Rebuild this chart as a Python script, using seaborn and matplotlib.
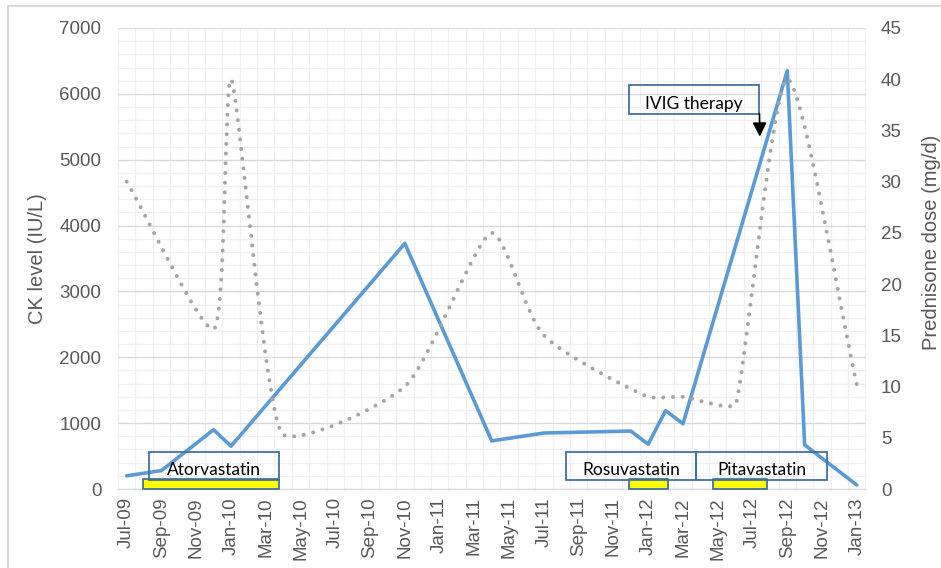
import numpy as np
import pandas as pd
import matplotlib
matplotlib.use("Agg")
import matplotlib.pyplot as plt
from matplotlib.path import Path
from matplotlib.patches import PathPatch, Rectangle
from matplotlib.ticker import MultipleLocator
from matplotlib.lines import Line2D
import seaborn as sns

# ---------------- data ----------------
ck_dates = ["2009-07-01", "2009-09-01", "2009-12-01", "2010-01-01", "2010-11-01",
            "2011-04-01", "2011-07-01", "2011-12-01", "2012-01-01", "2012-02-01",
            "2012-03-01", "2012-09-01", "2012-10-01", "2013-01-01"]
ck_values = [200, 280, 900, 650, 3730, 730, 850, 880, 680, 1190, 990, 6350, 670, 60]

pred_dates = ["2009-07-01", "2009-12-01", "2010-01-01", "2010-04-01", "2010-11-01",
              "2011-04-01", "2011-07-01", "2012-01-01", "2012-03-01", "2012-06-01",
              "2012-09-01", "2013-01-01"]
pred_values = [30, 15.6, 40, 5.3, 10, 25, 15, 9, 9, 8.2, 40, 10.2]

tick_labels = ["Jul-09", "Sep-09", "Nov-09", "Jan-10", "Mar-10", "May-10", "Jul-10",
               "Sep-10", "Nov-10", "Jan-11", "Mar-11", "May-11", "Jul-11", "Sep-11",
               "Nov-11", "Jan-12", "Mar-12", "May-12", "Jul-12", "Sep-12", "Nov-12",
               "Jan-13"]

drugs = ["Atorvastatin", "Rosuvastatin", "Pitavastatin"]
drug_start = ["2009-07-30", "2011-11-28", "2012-04-23"]
drug_end = ["2010-03-25", "2012-02-05", "2012-07-27"]

ivig_label = "IVIG therapy"

# ---------------- helpers ----------------
def month_index(s):
    d = pd.Timestamp(s)
    return (d.year - 2009) * 12 + d.month - 7 + (d.day - 1) / d.days_in_month

ck_x = [month_index(s) for s in ck_dates]
pred_x = [month_index(s) for s in pred_dates]

# ---------------- style ----------------
sns.set_style("white")
plt.rcParams["font.family"] = ["Liberation Sans Narrow", "Liberation Sans", "DejaVu Sans"]
TICK_COLOR = "#595959"
BOX_EDGE = "#41719C"

fig = plt.figure(figsize=(9.41, 5.68), dpi=100)
W, H = 941, 568
left, right, top, bottom = 118, 865.5, 28, 489
ax = fig.add_axes([left / W, 1 - bottom / H, (right - left) / W, (bottom - top) / H])
ax2 = ax.twinx()

XMIN, XMAX = -0.5, 42.5
Y2MAX = 45

# blue CK line
sns.lineplot(x=ck_x, y=ck_values, ax=ax, color="#5B9BD5", linewidth=2.6,
             sort=False, legend=False, zorder=3)

# gray smoothed dotted prednisone line (Excel-like corner smoothing, computed in pixel space)
sx = (right - left) / (XMAX - XMIN)
sy = (bottom - top) / Y2MAX
P = np.column_stack([np.array(pred_x) * sx, np.array(pred_values) * sy]).astype(float)
n = len(P)
dirs, hs = [], []
for i in range(n):
    if i == 0:
        v = P[1] - P[0]; L = np.linalg.norm(v); u = v / L; f = 1.0
    elif i == n - 1:
        v = P[i] - P[i - 1]; L = np.linalg.norm(v); u = v / L; f = 1.0
    else:
        a = P[i] - P[i - 1]; b = P[i + 1] - P[i]
        la, lb = np.linalg.norm(a), np.linalg.norm(b)
        ssum = a / la + b / lb
        m = np.linalg.norm(ssum)
        u = ssum / m if m > 1e-9 else a / la
        f = m / 2.0
        L = min(la, lb)
    dirs.append(u)
    hs.append(0.25 * L * f)
verts = [tuple(P[0])]
codes = [Path.MOVETO]
for i in range(n - 1):
    c1 = P[i] + dirs[i] * hs[i]
    c2 = P[i + 1] - dirs[i + 1] * hs[i + 1]
    verts += [tuple(c1), tuple(c2), tuple(P[i + 1])]
    codes += [Path.CURVE4] * 3
verts = np.array(verts)
verts[:, 0] = verts[:, 0] / sx
verts[:, 1] = verts[:, 1] / sy
patch = PathPatch(Path(verts, codes), facecolor="none", edgecolor="#A5A5A5",
                  linewidth=2.9, linestyle=(0, (0.01, 2.4)), capstyle="round",
                  transform=ax2.transData, zorder=4)
ax2.add_patch(patch)

# axes limits / ticks
ax.set_xlim(XMIN, XMAX)
ax.set_ylim(0, 7000)
ax2.set_ylim(0, Y2MAX)
ax.set_xticks(np.arange(0, 43, 2))
ax.set_xticklabels(tick_labels, rotation=90)
ax.set_xticks(np.arange(-0.5, 43, 1), minor=True)
ax.set_yticks(np.arange(0, 7001, 1000))
ax.yaxis.set_minor_locator(MultipleLocator(200))
ax2.set_yticks(np.arange(0, 46, 5))

ax.grid(False)
ax.yaxis.grid(True, which="major", color="#D9D9D9", linewidth=1.0)
ax.yaxis.grid(True, which="minor", color="#F0F0F0", linewidth=1.0)
ax.xaxis.grid(True, which="minor", color="#F0F0F0", linewidth=1.0)
ax.set_axisbelow(True)

ax.tick_params(axis="both", which="both", length=0)
ax.tick_params(axis="y", labelsize=13.5, labelcolor=TICK_COLOR, pad=12)
ax.tick_params(axis="x", labelsize=13.5, labelcolor=TICK_COLOR, pad=6)
ax2.tick_params(axis="y", which="both", length=0, labelsize=13.5, labelcolor=TICK_COLOR, pad=11)

for s in ["top", "left", "right"]:
    ax.spines[s].set_visible(False)
    ax2.spines[s].set_visible(False)
ax.spines["bottom"].set_color("#D9D9D9")
ax2.spines["bottom"].set_visible(False)

ax.set_ylabel("CK level (IU/L)", fontsize=14.5, color=TICK_COLOR)
ax.yaxis.set_label_coords(-0.095, 0.5)
ax2.set_ylabel("Prednisone dose (mg/d)", fontsize=14.5, color=TICK_COLOR, rotation=90)
ax2.yaxis.set_label_coords(1.0756, 0.535)

# drug periods: yellow bars
for st, en in zip(drug_start, drug_end):
    x0, x1 = month_index(st), month_index(en)
    ax.broken_barh([(x0, x1 - x0)], (0, 150), facecolors="#FFFF00",
                   edgecolors=BOX_EDGE, linewidth=1.3, zorder=5, clip_on=False)

# label boxes
box_x = [(1.28, 8.77), (25.28, 32.76), (32.76, 40.28)]
box_y = (140, 566)
text_x = [5.0, 29.02, 36.52]
ANN_FONT = ["Lato", "DejaVu Sans"]
for name, (bx0, bx1), tx in zip(drugs, box_x, text_x):
    ax.add_patch(Rectangle((bx0, box_y[0]), bx1 - bx0, box_y[1] - box_y[0],
                           facecolor="none", edgecolor=BOX_EDGE, linewidth=1.3, zorder=6))
    ax.text(tx, 285, name, ha="center", va="center", fontsize=12.5,
            color="black", family=ANN_FONT, zorder=7)

# IVIG box + arrow
ax.add_patch(Rectangle((28.9, 5700), 36.4 - 28.9, 6140 - 5700,
                       facecolor="none", edgecolor=BOX_EDGE, linewidth=1.3, zorder=6))
ax.text(32.65, 5850, ivig_label, ha="center", va="center", fontsize=12.5,
        color="black", family=ANN_FONT, zorder=7)
ax.annotate("", xy=(36.42, 5350), xytext=(36.4, 5700),
            arrowprops=dict(arrowstyle="-|>", color="black", lw=1.2,
                            mutation_scale=21, shrinkA=0, shrinkB=0), zorder=7)

# chart border (top/left visible)
fig.add_artist(Line2D([8 / W, 8 / W], [0, 1 - 6 / H], color="#D9D9D9", lw=1.5))
fig.add_artist(Line2D([8 / W, 1], [1 - 6 / H, 1 - 6 / H], color="#D9D9D9", lw=1.5))

fig.savefig("out.png", dpi=100, facecolor="white")
